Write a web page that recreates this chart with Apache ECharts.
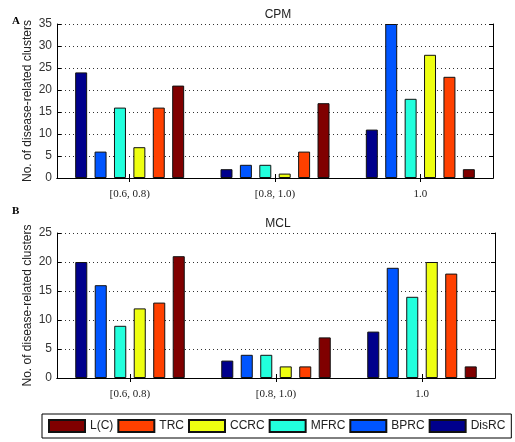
<!DOCTYPE html>
<html><head><meta charset="utf-8">
<script src="https://cdn.jsdelivr.net/npm/echarts@6/dist/echarts.min.js"></script>
<style>html,body{margin:0;padding:0;background:#fff}#c{width:515px;height:442px}</style>
</head><body><div id="c"></div>
<script>
const categories = ['[0.6, 0.8)', '[0.8, 1.0)', '1.0'];
const seriesNames = ['DisRC', 'BPRC', 'MFRC', 'CCRC', 'TRC', 'L(C)'];
const legendOrder = ['L(C)', 'TRC', 'CCRC', 'MFRC', 'BPRC', 'DisRC'];
const colors = ['#00008C', '#0055FF', '#22FFDD', '#EEFF11', '#FF4000', '#800000'];
// CPM panel
const cpmDisRC = [24, 2, 11];
const cpmBPRC  = [6, 3, 35];
const cpmMFRC  = [16, 3, 18];
const cpmCCRC  = [7, 1, 28];
const cpmTRC   = [16, 6, 23];
const cpmLC    = [21, 17, 2];
// MCL panel
const mclDisRC = [20, 3, 8];
const mclBPRC  = [16, 4, 19];
const mclMFRC  = [9, 4, 14];
const mclCCRC  = [12, 2, 20];
const mclTRC   = [13, 2, 18];
const mclLC    = [21, 7, 2];
const cpmTicks = [0, 5, 10, 15, 20, 25, 30, 35];
const mclTicks = [0, 5, 10, 15, 20, 25];

const cpmData = [cpmDisRC, cpmBPRC, cpmMFRC, cpmCCRC, cpmTRC, cpmLC];
const mclData = [mclDisRC, mclBPRC, mclMFRC, mclCCRC, mclTRC, mclLC];

const chart = echarts.init(document.getElementById('c'), null, {renderer: 'canvas'});
const sans = 'Liberation Sans, Arial, sans-serif';
const serif = 'Liberation Serif, Times New Roman, serif';

function xAxes(gi) {
  return [{
    type: 'category', gridIndex: gi, data: categories, position: 'bottom',
    axisLine: {show: true, lineStyle: {color: '#000', width: 1}},
    axisTick: {show: true, inside: true, alignWithLabel: true, length: 4, lineStyle: {color: '#000'}},
    axisLabel: {fontFamily: serif, fontSize: 11, color: '#222', margin: 11},
    splitLine: {show: false}
  }, {
    type: 'category', gridIndex: gi, data: categories, position: 'top',
    axisLine: {show: true, lineStyle: {color: '#000', width: 1}},
    axisTick: {show: true, inside: true, alignWithLabel: true, length: 4, lineStyle: {color: '#000'}},
    axisLabel: {show: false}, splitLine: {show: false}
  }];
}
function yAxes(gi, ticks) {
  const mx = ticks[ticks.length - 1];
  return [{
    type: 'value', gridIndex: gi, min: ticks[0], max: mx, interval: ticks[1] - ticks[0],
    name: 'No. of disease-related clusters', nameLocation: 'middle', nameGap: 23,
    nameMoveOverlap: false,
    nameTextStyle: {fontFamily: sans, fontSize: 12, color: '#222'},
    axisLine: {show: true, lineStyle: {color: '#000', width: 1}},
    axisTick: {show: true, inside: true, length: 4, lineStyle: {color: '#000'}},
    axisLabel: {fontFamily: sans, fontSize: 12, color: '#333', margin: 5},
    splitLine: {show: true, lineStyle: {type: [1, 3], color: '#333', width: 1}}
  }, {
    type: 'value', gridIndex: gi, min: ticks[0], max: mx, interval: ticks[1] - ticks[0], position: 'right',
    axisLine: {show: true, lineStyle: {color: '#000', width: 1}},
    axisTick: {show: true, inside: true, length: 4, lineStyle: {color: '#000'}},
    axisLabel: {show: false}, splitLine: {show: false}
  }];
}

const series = [];
[cpmData, mclData].forEach(function (panel, p) {
  panel.forEach(function (vals, i) {
    series.push({
      type: 'bar', name: seriesNames[i], data: vals,
      xAxisIndex: p * 2, yAxisIndex: p * 2,
      barGap: '62%', barCategoryGap: '25%',
      itemStyle: {color: colors[i], borderColor: '#111', borderWidth: 1},
      emphasis: {disabled: true}, animation: false
    });
  });
});

chart.setOption({
  animation: false,
  backgroundColor: '#fff',
  title: [
    {text: 'CPM', left: 273, top: 4, textAlign: 'center', textStyle: {fontFamily: sans, fontSize: 12, fontWeight: 'normal', color: '#222'}},
    {text: 'MCL', left: 273, top: 213, textAlign: 'center', textStyle: {fontFamily: sans, fontSize: 12, fontWeight: 'normal', color: '#222'}},
    {text: 'A', left: 7, top: 11, textStyle: {fontFamily: serif, fontSize: 11, fontWeight: 'bold', color: '#000'}},
    {text: 'B', left: 7, top: 201, textStyle: {fontFamily: serif, fontSize: 11, fontWeight: 'bold', color: '#000'}}
  ],
  legend: {
    data: legendOrder, left: 42, top: 414, width: 470, orient: 'horizontal',
    itemWidth: 36, itemHeight: 12, itemGap: 4,
    padding: [5, 6], borderColor: '#000', borderWidth: 1,
    textStyle: {fontFamily: sans, fontSize: 12, color: '#222'},
    icon: 'rect', selectedMode: false
  },
  grid: [
    {left: 57, right: 22, top: 24, height: 154, show: false},
    {left: 57, right: 20, top: 233, height: 145, show: false}
  ],
  xAxis: xAxes(0).concat(xAxes(1)),
  yAxis: yAxes(0, cpmTicks).concat(yAxes(1, mclTicks)),
  series: series
});
</script></body></html>
